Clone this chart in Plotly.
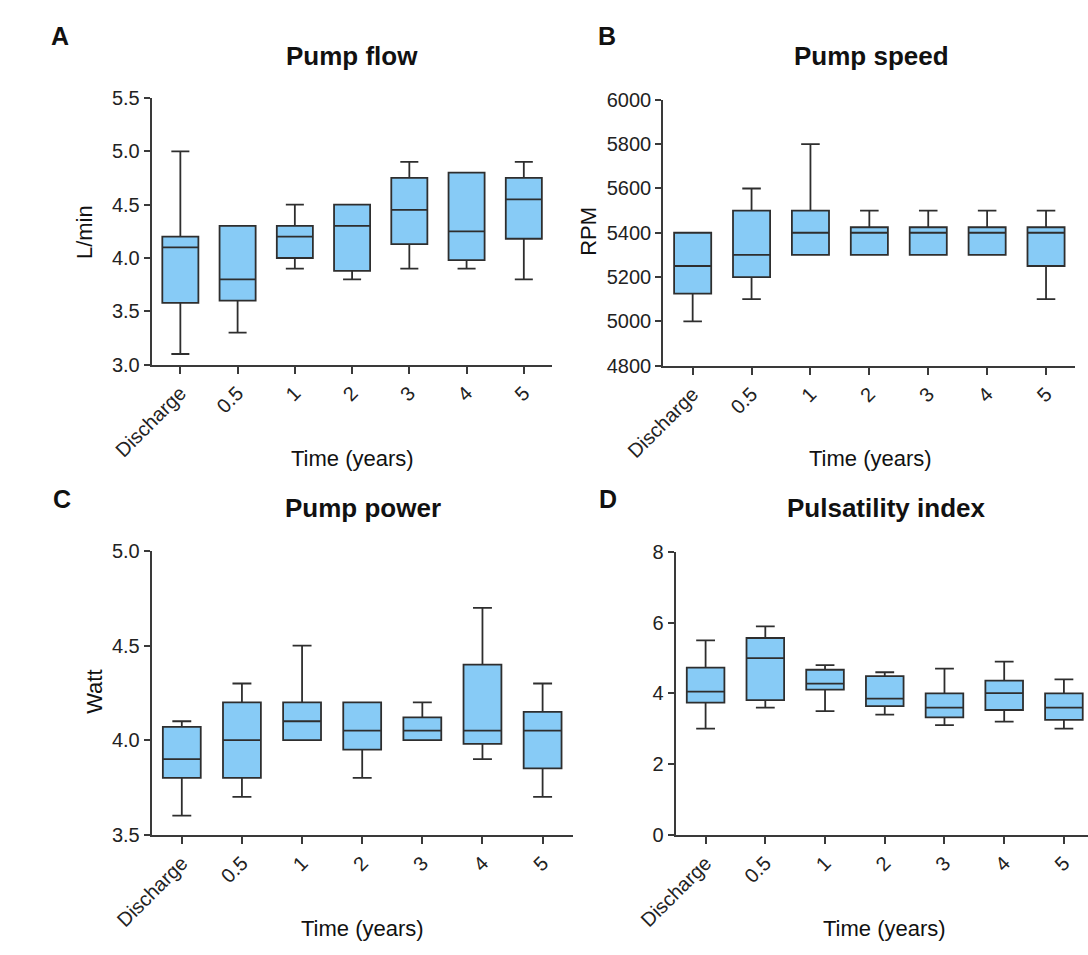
import plotly.graph_objects as go

W, H = 1088, 955

categories = ["Discharge", "0.5", "1", "2", "3", "4", "5"]

# Panel A: Pump flow (L/min)
flow_min = [3.1, 3.3, 3.9, 3.8, 3.9, 3.9, 3.8]
flow_q1 = [3.58, 3.6, 4.0, 3.88, 4.13, 3.98, 4.18]
flow_med = [4.1, 3.8, 4.2, 4.3, 4.45, 4.25, 4.55]
flow_q3 = [4.2, 4.3, 4.3, 4.5, 4.75, 4.8, 4.75]
flow_max = [5.0, 4.3, 4.5, 4.5, 4.9, 4.8, 4.9]

# Panel B: Pump speed (RPM)
speed_min = [5000, 5100, 5300, 5300, 5300, 5300, 5100]
speed_q1 = [5125, 5200, 5300, 5300, 5300, 5300, 5250]
speed_med = [5250, 5300, 5400, 5400, 5400, 5400, 5400]
speed_q3 = [5400, 5500, 5500, 5425, 5425, 5425, 5425]
speed_max = [5400, 5600, 5800, 5500, 5500, 5500, 5500]

# Panel C: Pump power (Watt)
power_min = [3.6, 3.7, 4.0, 3.8, 4.0, 3.9, 3.7]
power_q1 = [3.8, 3.8, 4.0, 3.95, 4.0, 3.98, 3.85]
power_med = [3.9, 4.0, 4.1, 4.05, 4.05, 4.05, 4.05]
power_q3 = [4.07, 4.2, 4.2, 4.2, 4.12, 4.4, 4.15]
power_max = [4.1, 4.3, 4.5, 4.2, 4.2, 4.7, 4.3]

# Panel D: Pulsatility index
pi_min = [3.0, 3.6, 3.5, 3.4, 3.1, 3.2, 3.0]
pi_q1 = [3.74, 3.81, 4.11, 3.64, 3.32, 3.53, 3.25]
pi_med = [4.05, 5.0, 4.28, 3.85, 3.6, 4.01, 3.6]
pi_q3 = [4.73, 5.57, 4.67, 4.49, 4.0, 4.36, 4.0]
pi_max = [5.5, 5.9, 4.8, 4.6, 4.7, 4.9, 4.4]

FONT = "Liberation Sans, Arial, Helvetica, sans-serif"
FILL = "#87CBF6"
EDGE = "#2e2e2e"
AXC = "#3a3a3a"
TICK_SIZE = 20


def px_x(p):
    return p / W


def px_y(p):
    return 1 - p / H


fig = go.Figure()

panels = [
    ("x", "y", (flow_min, flow_q1, flow_med, flow_q3, flow_max), (116, 532), (89, 362),
     [-0.5, 6.5], [3.0, 5.5], 0.5, ".1f"),
    ("x2", "y2", (speed_min, speed_q1, speed_med, speed_q3, speed_max), (647, 1075), (91, 363),
     [-0.5, 6.5], [4800, 6000], 200, "d"),
    ("x3", "y3", (power_min, power_q1, power_med, power_q3, power_max), (116, 553), (553, 843),
     [-0.5, 6.5], [3.5, 5.0], 0.5, ".1f"),
    ("x4", "y4", (pi_min, pi_q1, pi_med, pi_q3, pi_max), (660, 1088), (554, 843),
     [-0.5, -0.5 + 428 / 62.0], [0, 8], 2, "d"),
]

layout_axes = {}
for xa, ya, d, xd, yd, xr, yr, dt, fmt in panels:
    mn, q1, md, q3, mx = d
    fig.add_trace(go.Box(
        x=categories, q1=q1, median=md, q3=q3, lowerfence=mn, upperfence=mx,
        xaxis=xa, yaxis=ya, width=0.63, whiskerwidth=0.5,
        fillcolor=FILL, line=dict(color=EDGE, width=1.8),
        boxpoints=False, showlegend=False, hoverinfo="skip",
    ))
    xkey = "xaxis" + xa[1:]
    ykey = "yaxis" + ya[1:]
    layout_axes[xkey] = dict(
        domain=[px_x(xd[0]), min(1.0, px_x(xd[1]))], anchor=ya,
        type="category", categoryorder="array", categoryarray=categories,
        range=xr, showline=True, linecolor=AXC, linewidth=2,
        ticks="outside", ticklen=7, tickwidth=1.5, tickcolor=AXC,
        tickangle=-45, tickfont=dict(family=FONT, size=TICK_SIZE, color="#222"),
        showgrid=False, zeroline=False, fixedrange=True,
    )
    layout_axes[ykey] = dict(
        domain=[px_y(yd[1]), px_y(yd[0])], anchor=xa,
        range=yr, tick0=yr[0], dtick=dt, tickformat=fmt,
        showline=True, linecolor=AXC, linewidth=2,
        ticks="outside", ticklen=6, tickwidth=1.5, tickcolor=AXC,
        tickfont=dict(family=FONT, size=TICK_SIZE, color="#222"),
        showgrid=False, zeroline=False, fixedrange=True,
    )

annotations = []


def add_text(text, x, y, size, bold=False, angle=0):
    annotations.append(dict(
        text=("<b>%s</b>" % text) if bold else text,
        x=px_x(x), y=px_y(y), xref="paper", yref="paper",
        xanchor="center", yanchor="middle", showarrow=False, textangle=angle,
        font=dict(family=FONT, size=size, color="#111"),
    ))


# Panel letters
add_text("A", 21, 26, 25, bold=True)
add_text("B", 589, 26, 25, bold=True)
add_text("C", 23, 500, 25, bold=True)
add_text("D", 590, 500, 25, bold=True)

# Panel titles
add_text("Pump flow", 324, 46, 26, bold=True)
add_text("Pump speed", 863, 46, 26, bold=True)
add_text("Pump power", 335, 509, 26, bold=True)
add_text("Pulsatility index", 878, 509, 26, bold=True)

# X-axis titles
add_text("Time (years)", 324, 458, 22)
add_text("Time (years)", 862, 458, 22)
add_text("Time (years)", 335, 939, 22)
add_text("Time (years)", 877, 939, 22)

# Y-axis titles
add_text("L/min", 46, 226, 22, angle=-90)
add_text("RPM", 570, 226, 22, angle=-90)
add_text("Watt", 57, 697, 22, angle=-90)

fig.update_layout(
    width=W, height=H,
    margin=dict(l=0, r=0, t=0, b=0),
    paper_bgcolor="white", plot_bgcolor="white",
    font=dict(family=FONT, color="#222"),
    annotations=annotations,
    boxmode="overlay",
    **layout_axes,
)

fig.write_html("out.html", config={"displayModeBar": False})
